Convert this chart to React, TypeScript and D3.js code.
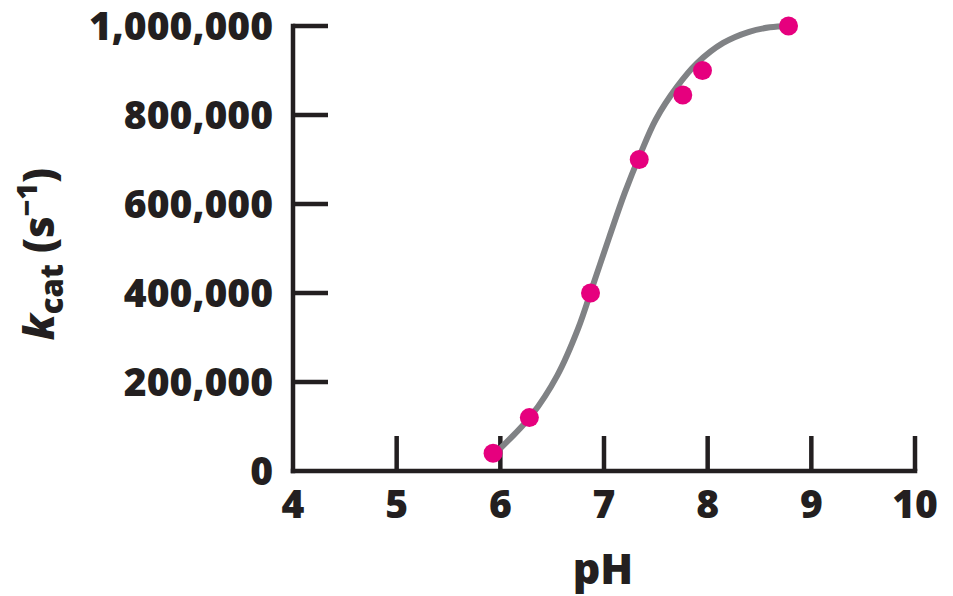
import React from "react";
import { scaleLinear, line, curveCatmullRom, format } from "d3";

// measured pH / kcat points (s^-1)
const pointPH = [5.93, 6.28, 6.87, 7.34, 7.76, 7.95, 8.78];
const pointKcat = [40000, 120000, 400000, 700000, 845000, 900000, 1000000];

// fitted curve
const curvePH = [6.0, 6.3, 6.55, 6.75, 6.9, 7.05, 7.2, 7.35, 7.5, 7.7, 7.9, 8.15, 8.4, 8.6, 8.78];
const curveKcat = [51000, 125000, 215000, 320000, 422000, 525000, 625000, 712000, 790000, 862000, 917000, 962000, 987000, 997000, 1000000];

const xTicks = [4, 5, 6, 7, 8, 9, 10];
const yTicks = [0, 200000, 400000, 600000, 800000, 1000000];

export default function App() {
  const width = 953;
  const height = 596;

  const x = scaleLinear().domain([4, 10]).range([293, 915]);
  const y = scaleLinear().domain([0, 1000000]).range([471, 26]);

  const ink = "#231f20";
  const axisW = 4.5;
  const tickLen = 35;
  const fmt = format(",");
  const font = "'Open Sans', 'DejaVu Sans', sans-serif";

  const curvePath = line<number>()
    .x((d, i) => x(curvePH[i]))
    .y((d) => y(d))
    .curve(curveCatmullRom.alpha(0.5))(curveKcat);

  return (
    <div style={{ position: "absolute", left: 0, top: 0 }}>
      <svg width={width} height={height} style={{ display: "block" }} fontFamily={font} fontWeight={800}>
        <rect width={width} height={height} fill="#ffffff" />

        {/* axes */}
        <line x1={x(4)} x2={x(4)} y1={y(1000000) - axisW / 2} y2={y(0) + axisW / 2} stroke={ink} strokeWidth={axisW} />
        <line x1={x(4) - axisW / 2} x2={x(10) + axisW / 2} y1={y(0)} y2={y(0)} stroke={ink} strokeWidth={axisW} />

        {yTicks.filter((t) => t > 0).map((t) => (
          <line key={"yt" + t} x1={x(4)} x2={x(4) + tickLen} y1={y(t)} y2={y(t)} stroke={ink} strokeWidth={axisW} />
        ))}
        {xTicks.filter((t) => t > 4).map((t) => (
          <line key={"xt" + t} x1={x(t)} x2={x(t)} y1={y(0)} y2={y(0) - tickLen} stroke={ink} strokeWidth={axisW} />
        ))}

        {yTicks.map((t) => (
          <text key={"yl" + t} x={x(4) - 20} y={y(t)} dy="0.36em" textAnchor="end" fontSize={39} fill={ink}>
            {fmt(t)}
          </text>
        ))}
        {xTicks.map((t) => (
          <text key={"xl" + t} x={x(t)} y={518} textAnchor="middle" fontSize={39} fill={ink}>
            {t}
          </text>
        ))}

        {/* axis titles */}
        <text x={603} y={584} textAnchor="middle" fontSize={43} fill={ink}>pH</text>
        <text transform="translate(54,254) rotate(-90)" textAnchor="middle" fontSize={42} fill={ink}>
          <tspan fontStyle="italic">k</tspan>
          <tspan fontSize={31} dy={9}>cat</tspan>
          <tspan dy={-9}> (s</tspan>
          <tspan fontSize={29} dy={-17}>−1</tspan>
          <tspan dy={17}>)</tspan>
        </text>

        {/* fitted curve */}
        <path d={curvePath || ""} fill="none" stroke="#808285" strokeWidth={6} strokeLinecap="round" />

        {/* data points */}
        {pointPH.map((p, i) => (
          <circle key={"pt" + i} cx={x(p)} cy={y(pointKcat[i])} r={9.5} fill="#e6007e" />
        ))}
      </svg>
    </div>
  );
}
